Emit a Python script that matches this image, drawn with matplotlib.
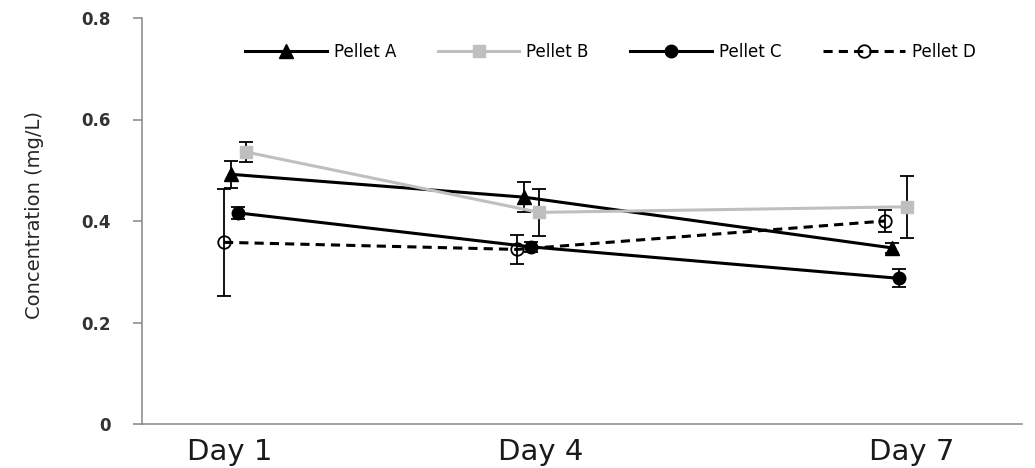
import matplotlib.pyplot as plt

# category placement on the x axis (arbitrary units, axis runs 0..880)
days = ["Day 1", "Day 4", "Day 7"]
day_label_pos = [88, 399, 770]
day_group_pos = [93, 386, 754]

series = ["Pellet A", "Pellet B", "Pellet C", "Pellet D"]
series_shift = [-4, 11, 3, -11]

pellet_a = [0.492, 0.447, 0.347]
pellet_b = [0.536, 0.417, 0.428]
pellet_c = [0.416, 0.349, 0.287]
pellet_d = [0.358, 0.344, 0.400]

err_a = [0.026, 0.030, 0.010]
err_b = [0.019, 0.047, 0.061]
err_c = [0.012, 0.010, 0.018]
err_d = [0.105, 0.028, 0.022]

values = [pellet_a, pellet_b, pellet_c, pellet_d]
errors = [err_a, err_b, err_c, err_d]

styles = [
    dict(color="black", marker="^", ms=10, mfc="black", mec="black", ls="-"),
    dict(color="#bfbfbf", marker="s", ms=8, mfc="#bfbfbf", mec="#bfbfbf", ls="-"),
    dict(color="black", marker="o", ms=9, mfc="black", mec="black", ls="-"),
    dict(color="black", marker="o", ms=9, mfc="none", mec="black", ls=(0, (3, 2)), mew=1.3),
]

fig = plt.figure(figsize=(10.35, 4.68), dpi=100)
ax = fig.add_axes([142 / 1035, 44 / 468, 880 / 1035, 406 / 468])

handles = []
for name, shift, vals, errs, st in zip(series, series_shift, values, errors, styles):
    xs = [p + shift for p in day_group_pos]
    ax.errorbar(xs, vals, yerr=errs, fmt="none", ecolor="black",
                elinewidth=1.3, capsize=5, capthick=1.3, zorder=2)
    (ln,) = ax.plot(xs, vals, lw=2.2, label=name, zorder=3, **st)
    handles.append(ln)

ax.set_xlim(0, 880)
ax.set_ylim(0, 0.8)
ax.set_yticks([0, 0.2, 0.4, 0.6, 0.8])
ax.set_yticklabels(["0", "0.2", "0.4", "0.6", "0.8"])
ax.set_xticks(day_label_pos)
ax.set_xticklabels(days, fontsize=21, color="#1a1a1a")

for side in ["top", "right"]:
    ax.spines[side].set_visible(False)
for side in ["left", "bottom"]:
    ax.spines[side].set_color("#868686")
    ax.spines[side].set_linewidth(1.1)

ax.tick_params(axis="y", direction="out", length=6.5, width=1.1, color="#868686",
               pad=16, labelsize=12, labelcolor="#333333")
for t in ax.get_yticklabels():
    t.set_fontweight("bold")
ax.tick_params(axis="x", length=0, pad=10)

fig.text(35 / 1035, 1 - 215 / 468, "Concentration (mg/L)", rotation=90,
         ha="center", va="center", fontsize=14, color="#262626")

fig.legend(handles=handles, loc="center left",
           bbox_to_anchor=(245 / 1035, 1 - 52 / 468), ncol=4, frameon=False,
           handlelength=4.9, handletextpad=0.42, columnspacing=2.5,
           numpoints=1, borderpad=0, borderaxespad=0,
           prop=dict(size=12))

fig.savefig("out.png", dpi=100)
